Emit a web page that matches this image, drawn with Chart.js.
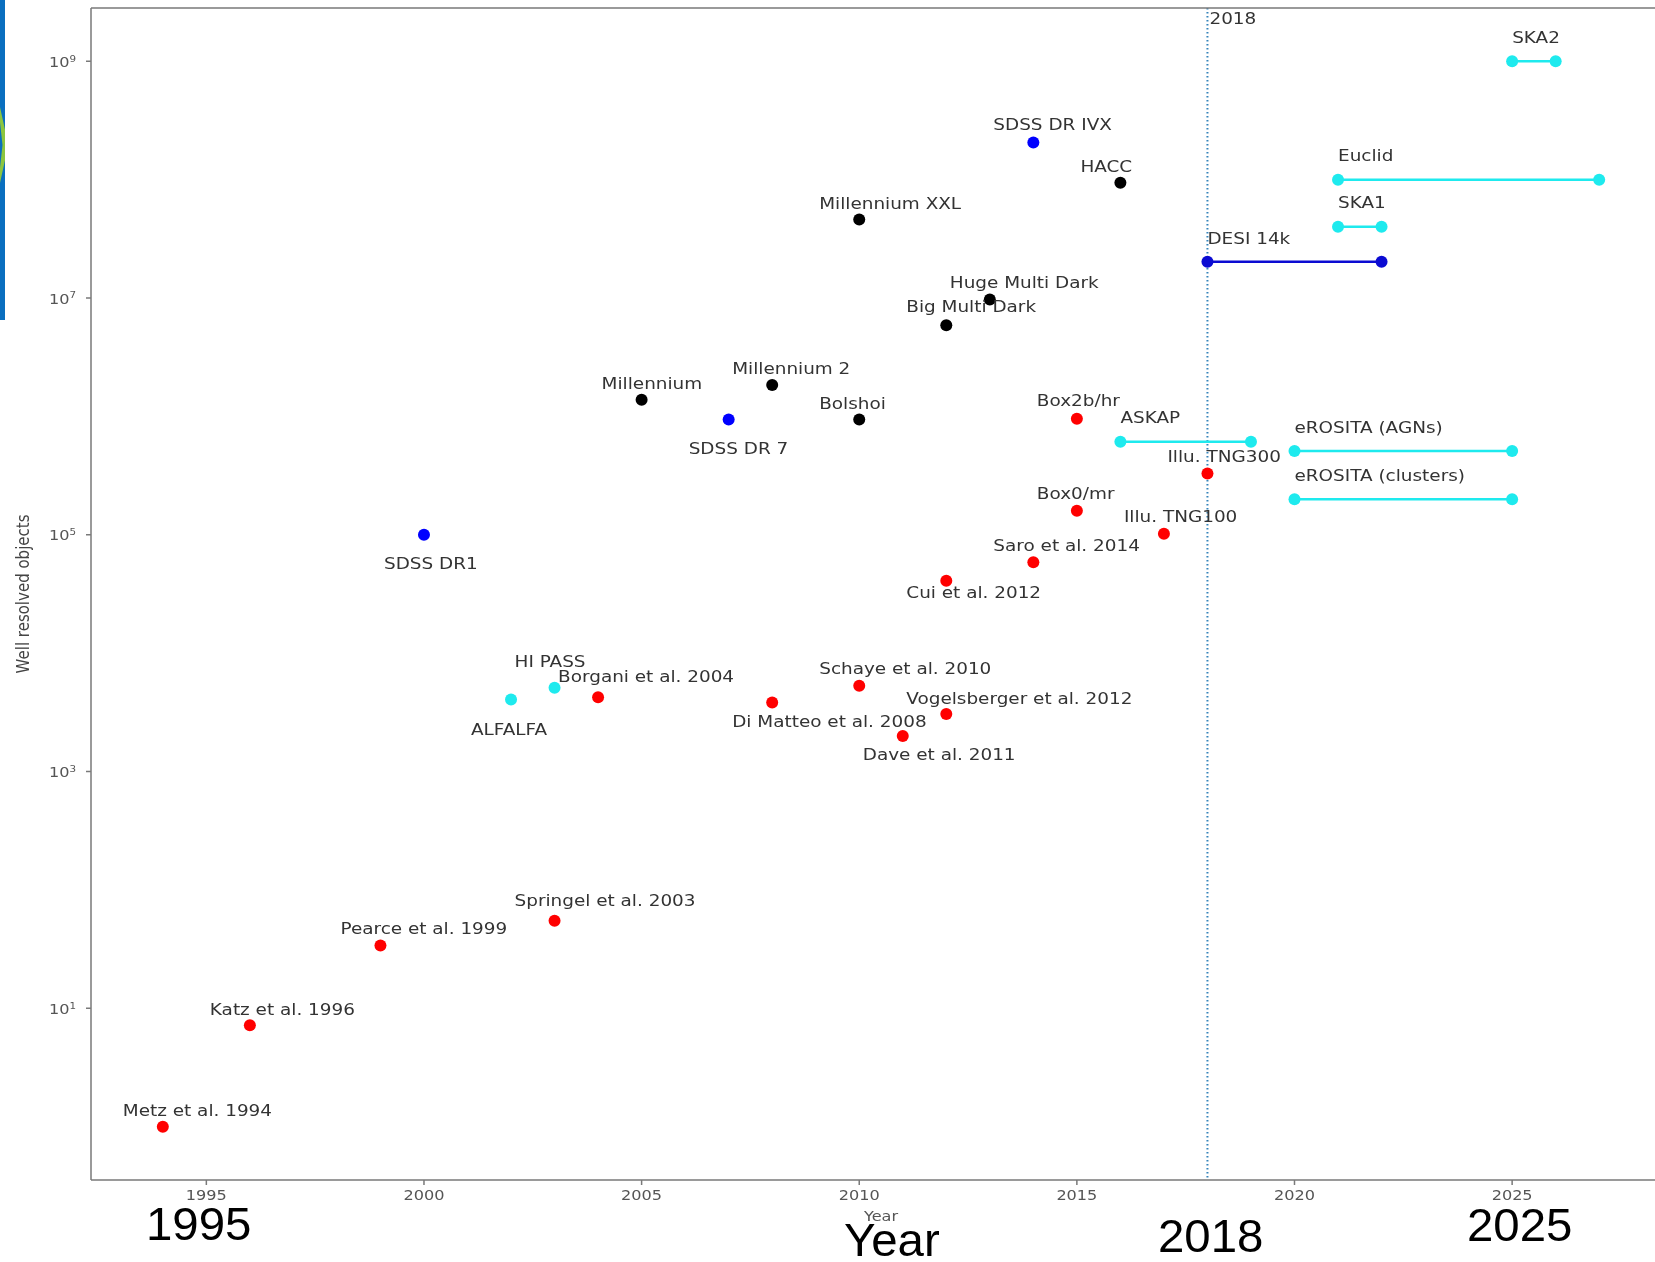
<!DOCTYPE html>
<html>
<head>
<meta charset="utf-8">
<title>Well resolved objects per year</title>
<script src="https://cdn.jsdelivr.net/npm/chart.js@4.4.1/dist/chart.umd.min.js"></script>
<style>
body{margin:0;background:#fff;overflow:hidden;width:1655px;height:1262px;position:relative;}
#wrap{position:absolute;left:0;top:0;width:1700px;height:1262px;}
.big{position:absolute;font-family:"Liberation Sans",Arial,sans-serif;font-size:46px;line-height:46px;color:#000;white-space:nowrap;transform:scaleX(1.03);transform-origin:left top;}
.bar{position:absolute;left:0;top:0;width:5px;height:320px;background:#0a6fbf;}
.green{position:absolute;left:0;top:107px;width:5px;height:76px;background:#8cc63f;
  clip-path:polygon(0 0,100% 30%,100% 70%,0 100%,0 80%,50% 50%,0 20%);}
</style>
</head>
<body>
<div id="wrap"><canvas id="chart" width="1700" height="1262"></canvas></div>
<div class="bar"></div>
<div class="green"></div>
<div class="big" style="left:146px;top:1201px">1995</div>
<div class="big" style="left:844px;top:1217px">Year</div>
<div class="big" style="left:1158px;top:1213px">2018</div>
<div class="big" style="left:1467px;top:1202px">2025</div>
<script>
// hydro simulations (red)
const simNames = ['Metz et al. 1994','Katz et al. 1996','Pearce et al. 1999','Springel et al. 2003','Borgani et al. 2004',
  'Di Matteo et al. 2008','Schaye et al. 2010','Dave et al. 2011','Vogelsberger et al. 2012','Cui et al. 2012',
  'Saro et al. 2014','Box0/mr','Box2b/hr','Illu. TNG100','Illu. TNG300'];
const simYears = [1994,1996,1999,2003,2004,2008,2010,2011,2012,2012,2014,2015,2015,2017,2018];
const simValues = [1,7.2,34,55,4250,3840,5300,2000,3060,41000,58600,160000,955000,102000,329000];

// n-body simulations (black)
const nbodyNames = ['Millennium','Millennium 2','Bolshoi','Millennium XXL','Big Multi Dark','Huge Multi Dark','HACC'];
const nbodyYears = [2005,2008,2010,2010,2012,2013,2016];
const nbodyValues = [1.38e6,1.84e6,9.4e5,4.6e7,5.9e6,9.7e6,9.4e7];

// SDSS (blue)
const sdssNames = ['SDSS DR1','SDSS DR 7','SDSS DR IVX'];
const sdssYears = [2000,2007,2014];
const sdssValues = [1e5,9.4e5,2.06e8];

// radio surveys (cyan)
const radioNames = ['ALFALFA','HI PASS'];
const radioYears = [2002,2003];
const radioValues = [4070,5100];

// DESI range (dark blue)
const desiNames = ['DESI 14k'];
const desiStart = [2018];
const desiEnd = [2022];
const desiValues = [2.03e7];

// future surveys, ranges (cyan)
const futureNames = ['ASKAP','eROSITA (AGNs)','eROSITA (clusters)','Euclid','SKA1','SKA2'];
const futureStart = [2016,2020,2020,2021,2021,2025];
const futureEnd = [2019,2025,2025,2027,2022,2026];
const futureValues = [6.1e5,5.1e5,2.0e5,1.0e8,4.0e7,1.0e9];

const xTicks = [1995,2000,2005,2010,2015,2020,2025];
const yTicks = [1e1,1e3,1e5,1e7,1e9];
const markerYear = 2018;

// label placement (px from the point), kept apart from the data
const labelDy = {
  'Metz et al. 1994':-15,'Katz et al. 1996':-14,'Pearce et al. 1999':-16,'Springel et al. 2003':-19,
  'Borgani et al. 2004':-19,'Di Matteo et al. 2008':20,'Schaye et al. 2010':-16,'Dave et al. 2011':20,
  'Vogelsberger et al. 2012':-14,'Cui et al. 2012':13,'Saro et al. 2014':-15,'Box0/mr':-16,'Box2b/hr':-17,
  'Illu. TNG100':-16,'Illu. TNG300':-16,'Millennium':-15,'Millennium 2':-15,'Bolshoi':-15,
  'Millennium XXL':-15,'Big Multi Dark':-17,'Huge Multi Dark':-16,'HACC':-15,
  'SDSS DR1':30,'SDSS DR 7':30,'SDSS DR IVX':-17,'ALFALFA':31,'HI PASS':-25,
  'DESI 14k':-22,'ASKAP':-23,'eROSITA (AGNs)':-22,'eROSITA (clusters)':-22,'Euclid':-23,'SKA1':-23,'SKA2':-22
};
const POINT_DX = -40;
const STRETCH = 1.15;
const FONT = '"DejaVu Sans"';

const RED = '#ff0000', BLACK = '#000000', BLUE = '#0000ff', CYAN = '#1eeaee', DARKBLUE = '#0b0bd2';

function pointSet(years, values, color) {
  return {
    data: years.map((yr, i) => ({x: yr, y: values[i]})),
    backgroundColor: color, borderColor: color,
    pointRadius: 6, pointHoverRadius: 6, pointBorderWidth: 0, showLine: false
  };
}
function rangeSets(start, end, values, color) {
  return values.map((v, i) => ({
    data: [{x: start[i], y: v}, {x: end[i], y: v}],
    backgroundColor: color, borderColor: color, borderWidth: 2.5,
    pointRadius: 6, pointHoverRadius: 6, pointBorderWidth: 0, showLine: true
  }));
}

function txt(ctx, s, x, y, font, color, align) {
  ctx.save();
  ctx.translate(x, y);
  ctx.scale(STRETCH, 1);
  ctx.font = font;
  ctx.fillStyle = color;
  ctx.textAlign = align || 'left';
  ctx.textBaseline = 'middle';
  ctx.fillText(s, 0, 0);
  ctx.restore();
}

const overlay = {
  id: 'overlay',
  beforeDatasetsDraw(chart) {
    const {ctx, chartArea: a, scales: {x}} = chart;
    const lx = x.getPixelForValue(markerYear);
    ctx.save();
    ctx.strokeStyle = 'rgba(31,119,180,0.9)';
    ctx.lineWidth = 2;
    ctx.setLineDash([1.5, 2.5]);
    ctx.beginPath();
    ctx.moveTo(lx, a.top);
    ctx.lineTo(lx, a.bottom);
    ctx.stroke();
    ctx.restore();
    txt(ctx, String(markerYear), lx + 2, a.top + 12, '16px ' + FONT, '#333', 'left');
  },
  afterDatasetsDraw(chart) {
    const {ctx, chartArea: a, scales: {x, y}} = chart;
    // frame
    ctx.save();
    ctx.strokeStyle = '#7a7a7a';
    ctx.lineWidth = 1.5;
    ctx.beginPath();
    ctx.moveTo(a.left, a.bottom); ctx.lineTo(a.right, a.bottom);
    ctx.moveTo(a.left, a.top); ctx.lineTo(a.right, a.top);
    ctx.moveTo(a.left, a.top); ctx.lineTo(a.left, a.bottom);
    ctx.moveTo(a.right, a.top); ctx.lineTo(a.right, a.bottom);
    xTicks.forEach(t => {
      const px = x.getPixelForValue(t);
      ctx.moveTo(px, a.bottom); ctx.lineTo(px, a.bottom + 5);
    });
    yTicks.forEach(t => {
      const py = y.getPixelForValue(t);
      ctx.moveTo(a.left - 5, py); ctx.lineTo(a.left, py);
    });
    ctx.stroke();
    ctx.restore();

    // tick labels
    xTicks.forEach(t => {
      txt(ctx, String(t), x.getPixelForValue(t), a.bottom + 16, '14px ' + FONT, '#555', 'center');
    });
    yTicks.forEach(t => {
      const py = y.getPixelForValue(t);
      const e = String(Math.round(Math.log10(t)));
      ctx.font = '14px ' + FONT;
      const w1 = ctx.measureText('10').width * STRETCH;
      ctx.font = '9px ' + FONT;
      const w2 = ctx.measureText(e).width * STRETCH;
      const right = a.left - 15;
      txt(ctx, '10', right - w2 - w1, py + 2, '14px ' + FONT, '#555', 'left');
      txt(ctx, e, right - w2, py - 2, '9px ' + FONT, '#555', 'left');
    });

    // axis titles
    txt(ctx, 'Year', (a.left + a.right) / 2, a.bottom + 37, '14px ' + FONT, '#555', 'center');
    ctx.save();
    ctx.translate(25, (a.top + a.bottom) / 2);
    ctx.scale(STRETCH, 1);
    ctx.rotate(-Math.PI / 2);
    ctx.font = '15px ' + FONT;
    ctx.fillStyle = '#444';
    ctx.textAlign = 'center';
    ctx.textBaseline = 'middle';
    ctx.fillText('Well resolved objects', 0, 0);
    ctx.restore();

    // annotations
    const font = '16px ' + FONT;
    const pointLabels = (names, years, values) => names.forEach((n, i) => {
      txt(ctx, n, x.getPixelForValue(years[i]) + POINT_DX, y.getPixelForValue(values[i]) + labelDy[n], font, '#333', 'left');
    });
    const rangeLabels = (names, start, values) => names.forEach((n, i) => {
      txt(ctx, n, x.getPixelForValue(start[i]), y.getPixelForValue(values[i]) + labelDy[n], font, '#333', 'left');
    });
    pointLabels(simNames, simYears, simValues);
    pointLabels(nbodyNames, nbodyYears, nbodyValues);
    pointLabels(sdssNames, sdssYears, sdssValues);
    pointLabels(radioNames, radioYears, radioValues);
    rangeLabels(desiNames, desiStart, desiValues);
    rangeLabels(futureNames, futureStart, futureValues);
  }
};

const datasets = [
  pointSet(simYears, simValues, RED),
  pointSet(nbodyYears, nbodyValues, BLACK),
  pointSet(sdssYears, sdssValues, BLUE),
  pointSet(radioYears, radioValues, CYAN),
  ...rangeSets(desiStart, desiEnd, desiValues, DARKBLUE),
  ...rangeSets(futureStart, futureEnd, futureValues, CYAN)
];

const chart = new Chart(document.getElementById('chart'), {
  type: 'scatter',
  data: {datasets: datasets},
  options: {
    responsive: false,
    animation: false,
    layout: {padding: {left: 91, top: 8, right: 29, bottom: 82}},
    plugins: {legend: {display: false}, tooltip: {enabled: false}},
    scales: {
      x: {type: 'linear', display: false, min: 1992.35, max: 2028.65},
      y: {type: 'logarithmic', display: false, min: Math.pow(10, -0.45), max: Math.pow(10, 9.45)}
    }
  },
  plugins: [overlay]
});
</script>
</body>
</html>
